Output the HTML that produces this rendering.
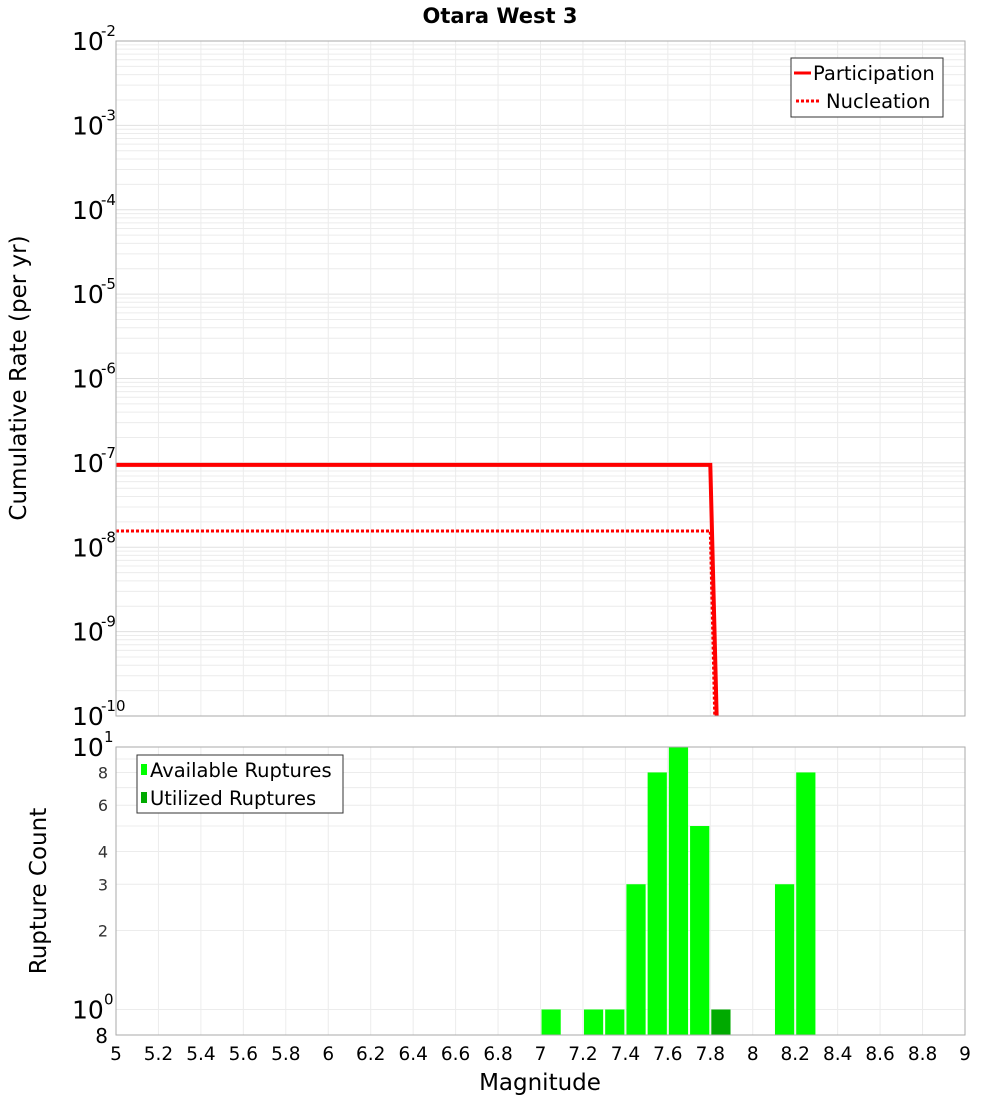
<!DOCTYPE html>
<html><head><meta charset="utf-8"><style>
body{margin:0;background:#fff;font-family:"Liberation Sans","DejaVu Sans",sans-serif}
svg text{font-family:"DejaVu Sans","Liberation Sans",sans-serif}
</style></head><body>
<svg id="c" width="1000" height="1100" xmlns="http://www.w3.org/2000/svg">
<text x="500" y="23" text-anchor="middle" font-size="21" font-weight="bold">Otara West 3</text>
<text transform="translate(26,378) rotate(-90)" text-anchor="middle" font-size="23">Cumulative Rate (per yr)</text>
<text transform="translate(46,891) rotate(-90)" text-anchor="middle" font-size="23">Rupture Count</text>
<text x="540" y="1090" text-anchor="middle" font-size="23">Magnitude</text>
<g id="grid"></g><g id="marks"></g><g id="axes"></g>
<g>
<rect x="791" y="58" width="152" height="59" fill="#fff" stroke="#333"/>
<line x1="794" y1="73" x2="811" y2="73" stroke="#f00" stroke-width="3"/>
<text x="813" y="80" font-size="19.5">Participation</text>
<line x1="796" y1="101" x2="820" y2="101" stroke="#f00" stroke-width="3" stroke-dasharray="3,2"/>
<text x="826" y="108" font-size="19.5">Nucleation</text>
</g>
<g>
<rect x="137" y="755" width="206" height="58" fill="#fff" stroke="#333"/>
<rect x="141" y="764" width="6" height="11" fill="#00ff00"/>
<text x="150" y="777" font-size="19.5">Available Ruptures</text>
<rect x="141" y="792" width="6" height="11" fill="#00aa00"/>
<text x="150" y="805" font-size="19.5">Utilized Ruptures</text>
</g>
</svg>
<script>
const partMag=[5,7.8,7.85];
const partRate=[9.46e-8,9.46e-8,1e-12];
const nuclMag=[5,7.8,7.84];
const nuclRate=[1.56e-8,1.56e-8,1e-12];
const binStart=[7.0,7.2,7.3,7.4,7.5,7.6,7.7,8.1,8.2];
const binCount=[1,1,1,3,8,10,5,3,8];
const usedStart=[7.8];
const usedCount=[1];
const xTicks=[5,5.2,5.4,5.6,5.8,6,6.2,6.4,6.6,6.8,7,7.2,7.4,7.6,7.8,8,8.2,8.4,8.6,8.8,9];
const topExp=[-2,-3,-4,-5,-6,-7,-8,-9,-10];
const botTicks=[2,3,4,6,8];

const NS="http://www.w3.org/2000/svg";
const X0=116,X1=965,T0=41,T1=716,B0=747,B1=1035;
const x=m=>X0+(m-5)/4*(X1-X0);
const yT=v=>T0+(-2-Math.log10(v))*(T1-T0)/8;
const yB=v=>B0+(1-Math.log10(v))*262.5;
function mk(p,tag,a){const e=document.createElementNS(NS,tag);for(const k in a)e.setAttribute(k,a[k]);document.getElementById(p).appendChild(e);return e;}
for(let d=-10;d<-2;d++)for(let k=1;k<10;k++){const yy=yT(k*Math.pow(10,d));const e=mk('grid','line',{x1:X0,x2:X1,y1:yy,y2:yy,stroke:k==1?'#e0e0e0':'#ececec','stroke-width':1});

}
for(let k=1;k<=10;k++){const yy=yB(k);const e=mk('grid','line',{x1:X0,x2:X1,y1:yy,y2:yy,stroke:'#ececec'});

}
xTicks.forEach(t=>{const xx=x(t);
const a=mk('grid','line',{x1:xx,x2:xx,y1:T0,y2:T1,stroke:'#ececec'});


const b=mk('grid','line',{x1:xx,x2:xx,y1:B0,y2:B1,stroke:'#ececec'});

});
const defs=mk('marks','defs',{});
const cp=document.createElementNS(NS,'clipPath');cp.setAttribute('id','cl');defs.appendChild(cp);
const cr=document.createElementNS(NS,'rect');cr.setAttribute('x',X0);cr.setAttribute('y',T0);cr.setAttribute('width',X1-X0);cr.setAttribute('height',T1-T0);cp.appendChild(cr);
const pts=(ms,vs)=>ms.map((m,i)=>x(m)+','+yT(vs[i])).join(' ');
const n=mk('marks','polyline',{points:pts(nuclMag,nuclRate),fill:'none',stroke:'#f00','stroke-width':3,'stroke-dasharray':'3,2','clip-path':'url(#cl)'});


const p=mk('marks','polyline',{points:pts(partMag,partRate),fill:'none',stroke:'#f00','stroke-width':4,'clip-path':'url(#cl)'});


const bw=x(5.1)-x(5);
binStart.forEach((m,i)=>{const yy=yB(binCount[i]);const r=mk('marks','rect',{x:x(m)+1,y:yy,width:bw-2,height:B1-yy,fill:'#00ff00'});

});
usedStart.forEach((m,i)=>{const yy=yB(usedCount[i]);const r=mk('marks','rect',{x:x(m)+1,y:yy,width:bw-2,height:B1-yy,fill:'#00aa00'});

});
[[T0,T1],[B0,B1]].forEach(([a,b])=>{const r=mk('axes','rect',{x:X0,y:a,width:X1-X0,height:b-a,fill:'none',stroke:'#aaa'});

});
xTicks.forEach(t=>{const tx=mk('axes','text',{x:x(t),y:1060,'text-anchor':'middle','font-size':18.5});tx.textContent=String(t);

});
topExp.forEach(e=>{const yy=yT(Math.pow(10,e));const tx=mk('axes','text',{x:72,y:yy+9,'font-size':25});tx.textContent='10';


const s=mk('axes','text',{x:101,y:yy-5,'font-size':15});s.textContent=String(e);

});
[[10,'1'],[1,'0']].forEach(([v,e])=>{const yy=yB(v);const tx=mk('axes','text',{x:72,y:yy+9,'font-size':25});tx.textContent='10';


const s=mk('axes','text',{x:104,y:yy-5,'font-size':15});s.textContent=e;

});
botTicks.forEach(v=>{const tx=mk('axes','text',{x:108,y:yB(v)+6,'text-anchor':'end','font-size':16,fill:'#333'});tx.textContent=String(v);

});
const e8=mk('axes','text',{x:108,y:yB(0.8)+8,'text-anchor':'end','font-size':20});e8.textContent='8';


</script>
</body></html>
